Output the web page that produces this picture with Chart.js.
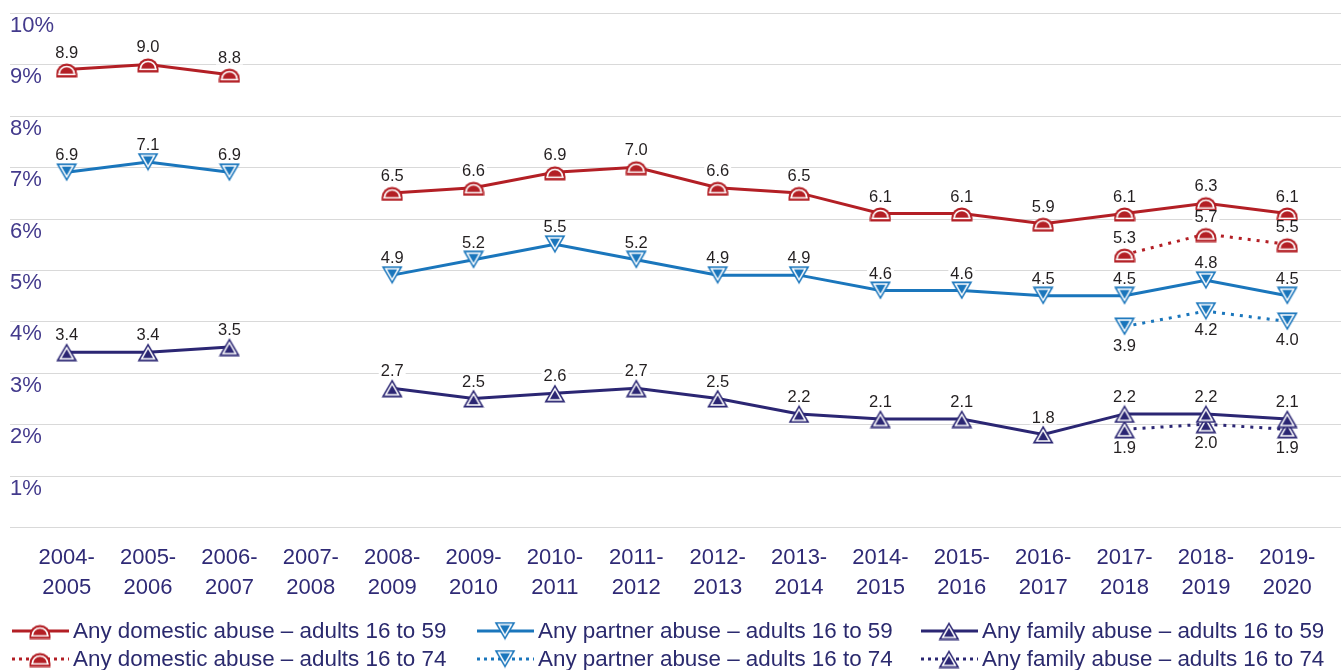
<!DOCTYPE html>
<html><head><meta charset="utf-8">
<script src="https://cdn.jsdelivr.net/npm/chart.js@4.4.1/dist/chart.umd.min.js"></script>
<style>html,body{margin:0;padding:0;background:#fff;}#wrap{position:relative;width:1341px;height:670px;}</style>
</head><body><div id="wrap"><canvas id="c"></canvas></div>
<script>
const categories = [["2004-","2005"],["2005-","2006"],["2006-","2007"],["2007-","2008"],["2008-","2009"],["2009-","2010"],["2010-","2011"],["2011-","2012"],["2012-","2013"],["2013-","2014"],["2014-","2015"],["2015-","2016"],["2016-","2017"],["2017-","2018"],["2018-","2019"],["2019-","2020"]];
const domestic1659 = [8.9,9.0,8.8,null,6.5,6.6,6.9,7.0,6.6,6.5,6.1,6.1,5.9,6.1,6.3,6.1];
const partner1659  = [6.9,7.1,6.9,null,4.9,5.2,5.5,5.2,4.9,4.9,4.6,4.6,4.5,4.5,4.8,4.5];
const family1659   = [3.4,3.4,3.5,null,2.7,2.5,2.6,2.7,2.5,2.2,2.1,2.1,1.8,2.2,2.2,2.1];
const domestic1674 = [null,null,null,null,null,null,null,null,null,null,null,null,null,5.3,5.7,5.5];
const partner1674  = [null,null,null,null,null,null,null,null,null,null,null,null,null,3.9,4.2,4.0];
const family1674   = [null,null,null,null,null,null,null,null,null,null,null,null,null,1.9,2.0,1.9];
const yTickValues = [1,2,3,4,5,6,7,8,9,10];
const seriesNames = ["Any domestic abuse \u2013 adults 16 to 59","Any partner abuse \u2013 adults 16 to 59","Any family abuse \u2013 adults 16 to 59","Any domestic abuse \u2013 adults 16 to 74","Any partner abuse \u2013 adults 16 to 74","Any family abuse \u2013 adults 16 to 74"];

const RED='#b31f25', BLUE='#1a76bc', NAVY='#2b2673';
const FONT='"Liberation Sans", Arial, Helvetica, sans-serif';

function dome(color){
  const c=document.createElement('canvas'); c.width=22; c.height=17;
  const x=c.getContext('2d');
  x.fillStyle=color; x.beginPath(); x.arc(11,13,10.5,Math.PI,0); x.lineTo(21.5,16.5); x.lineTo(0.5,16.5); x.closePath(); x.fill();
  x.strokeStyle='#fff'; x.lineWidth=1.5;
  x.beginPath(); x.arc(11,13,7.6,Math.PI,0); x.stroke();
  x.beginPath(); x.moveTo(2.2,13.4); x.lineTo(19.8,13.4); x.stroke();
  return c;
}
function tri(color, down){
  const c=document.createElement('canvas'); c.width=22; c.height=19;
  const x=c.getContext('2d');
  const f = y => down ? y : 19 - y;
  x.fillStyle=color; x.beginPath(); x.moveTo(0.5,f(0.5)); x.lineTo(21.5,f(0.5)); x.lineTo(11,f(18.5)); x.closePath(); x.fill();
  x.strokeStyle='#fff'; x.lineWidth=1.5;
  x.beginPath(); x.moveTo(4.6,f(2.9)); x.lineTo(17.4,f(2.9)); x.lineTo(11,f(14)); x.closePath(); x.stroke();
  return c;
}
const mDome=dome(RED), mDown=tri(BLUE,true), mUp=tri(NAVY,false);

function ds(label,data,color,marker,dotted,pos){
  return {label,data,borderColor:color,backgroundColor:color,borderWidth:3,pointStyle:marker,
    borderDash:dotted?[3,6]:[],spanGaps:false,tension:0,labelPos:pos,pointRadius:10,pointHoverRadius:10};
}

const gridPlugin={id:'grid',
  beforeDatasetsDraw(chart){
    const {ctx}=chart, y=chart.scales.y;
    ctx.save(); ctx.strokeStyle='#d9d9d9'; ctx.lineWidth=1.2;
    [0,...yTickValues].forEach(v=>{const p=Math.round(y.getPixelForValue(v))+0.5; ctx.beginPath(); ctx.moveTo(10,p); ctx.lineTo(chart.width,p); ctx.stroke();});
    ctx.fillStyle='#433a8c'; ctx.font='22px '+FONT; ctx.textAlign='left'; ctx.textBaseline='middle';
    yTickValues.forEach(v=>{ctx.fillText(v+'%',10,y.getPixelForValue(v)+13);});
    ctx.restore();
  },
  afterDatasetsDraw(chart){
    const {ctx}=chart;
    ctx.save(); ctx.font='16.5px '+FONT; ctx.textAlign='center'; ctx.textBaseline='middle';
    chart.data.datasets.forEach((d,i)=>{
      const meta=chart.getDatasetMeta(i);
      meta.data.forEach((pt,j)=>{
        const v=d.data[j]; if(v==null) return;
        const t=v.toFixed(1); const w=ctx.measureText(t).width;
        const ty = d.labelPos==='above' ? pt.y-17 : pt.y+19;
        ctx.fillStyle='#fff'; ctx.fillRect(pt.x-w/2-2,ty-7,w+4,14);
        ctx.fillStyle='#231f20'; ctx.fillText(t,pt.x,ty+0.5);
      });
    });
    ctx.restore();
  },
  afterDraw(chart){
    const {ctx}=chart;
    const items=[
      {x:12,y:631,c:RED,m:mDome,dot:false,t:seriesNames[0]},
      {x:477,y:631,c:BLUE,m:mDown,dot:false,t:seriesNames[1]},
      {x:921,y:631,c:NAVY,m:mUp,dot:false,t:seriesNames[2]},
      {x:12,y:659,c:RED,m:mDome,dot:true,t:seriesNames[3]},
      {x:477,y:659,c:BLUE,m:mDown,dot:true,t:seriesNames[4]},
      {x:921,y:659,c:NAVY,m:mUp,dot:true,t:seriesNames[5]}];
    ctx.save();
    items.forEach(it=>{
      ctx.strokeStyle=it.c; ctx.lineWidth=3; ctx.setLineDash(it.dot?[3,4]:[]);
      ctx.beginPath(); ctx.moveTo(it.x,it.y); ctx.lineTo(it.x+57,it.y); ctx.stroke();
      ctx.setLineDash([]);
      ctx.drawImage(it.m, it.x+28-it.m.width/2, it.y-it.m.height/2);
      ctx.fillStyle='#2b2a6e'; ctx.font='22.4px '+FONT; ctx.textAlign='left'; ctx.textBaseline='middle';
      ctx.fillText(it.t,it.x+61,it.y+1);
    });
    ctx.restore();
  }
};

new Chart(document.getElementById('c'),{
  type:'line',
  data:{labels:categories,datasets:[
    ds(seriesNames[0],domestic1659,RED,mDome,false,'above'),
    ds(seriesNames[1],partner1659,BLUE,mDown,false,'above'),
    ds(seriesNames[2],family1659,NAVY,mUp,false,'above'),
    ds(seriesNames[3],domestic1674,RED,mDome,true,'above'),
    ds(seriesNames[4],partner1674,BLUE,mDown,true,'below'),
    ds(seriesNames[5],family1674,NAVY,mUp,true,'below')
  ]},
  options:{
    responsive:true,maintainAspectRatio:false,animation:false,
    layout:{padding:{top:12,left:26,right:3,bottom:0}},
    plugins:{legend:{display:false},tooltip:{enabled:false}},
    events:[],
    scales:{
      x:{type:'category',offset:true,grid:{display:false,drawTicks:false},border:{display:false},
        ticks:{font:{size:22,family:FONT,lineHeight:1.35},color:'#2f2a76',padding:16,maxRotation:0,autoSkip:false},
        afterFit(s){s.height=143;}},
      y:{display:false,min:0,max:10}
    }
  },
  plugins:[gridPlugin]
});
</script></body></html>
